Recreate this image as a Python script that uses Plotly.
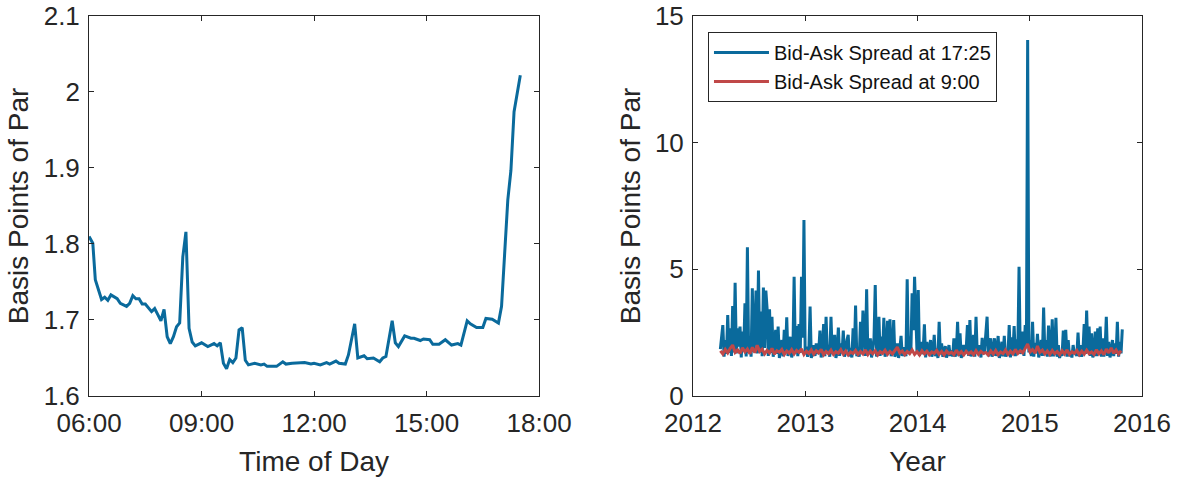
import pandas as pd
import plotly.graph_objects as go
from plotly.subplots import make_subplots

# ---- Intraday profile (left panel) ----
intraday_time = [
    "06:00", "06:06", "06:10", "06:15", "06:20", "06:25", "06:30", "06:35", "06:45", "06:50",
    "07:00", "07:05", "07:10", "07:15", "07:20", "07:25", "07:30", "07:40", "07:45", "07:50",
    "07:55", "08:00", "08:05", "08:10", "08:15", "08:20", "08:25", "08:30", "08:35", "08:40",
    "08:45", "08:50", "09:00", "09:10", "09:20", "09:25", "09:30", "09:35", "09:40", "09:45",
    "09:50", "09:55", "10:00", "10:05", "10:10", "10:15", "10:25", "10:35", "10:40", "10:45",
    "11:00", "11:10", "11:15", "11:25", "11:40", "11:45", "11:55", "12:00", "12:10", "12:20",
    "12:25", "12:35", "12:40", "12:50", "12:55", "13:05", "13:10", "13:20", "13:25", "13:35",
    "13:45", "13:50", "13:55", "14:05", "14:10", "14:15", "14:25", "14:35", "14:40", "14:50",
    "14:55", "15:05", "15:10", "15:20", "15:30", "15:40", "15:50", "15:55", "16:05", "16:10",
    "16:20", "16:30", "16:35", "16:45", "16:55", "17:00", "17:10", "17:15", "17:20", "17:30",
]
intraday_bp = [
    1.810, 1.801, 1.753, 1.739, 1.727, 1.730, 1.726, 1.733, 1.728, 1.722,
    1.718, 1.722, 1.732, 1.728, 1.728, 1.721, 1.721, 1.711, 1.715, 1.707,
    1.699, 1.714, 1.678, 1.669, 1.678, 1.691, 1.696, 1.783, 1.816, 1.689,
    1.671, 1.666, 1.670, 1.665, 1.669, 1.666, 1.670, 1.643, 1.636, 1.648,
    1.644, 1.650, 1.687, 1.690, 1.647, 1.641, 1.643, 1.641, 1.642, 1.639,
    1.639, 1.645, 1.642, 1.643, 1.644, 1.644, 1.642, 1.643, 1.641, 1.644,
    1.642, 1.646, 1.643, 1.642, 1.654, 1.695, 1.650, 1.653, 1.649, 1.650,
    1.645, 1.650, 1.652, 1.699, 1.670, 1.665, 1.679, 1.676, 1.676, 1.673,
    1.675, 1.674, 1.668, 1.668, 1.674, 1.667, 1.669, 1.667, 1.699, 1.695,
    1.690, 1.690, 1.702, 1.701, 1.696, 1.718, 1.858, 1.897, 1.974, 2.022,
]

# ---- Daily spreads (right panel), sampled every 4 / 8 days ----
start_date = "2012-03-30"

spread_1725 = [
    1.85, 2.41, 2.80, 1.55, 2.21, 1.66, 3.20, 1.70, 2.67, 1.58,
    3.55, 1.72, 4.47, 1.68, 2.67, 1.95, 2.74, 1.52, 2.54, 1.80,
    3.66, 1.56, 5.87, 1.70, 2.34, 1.55, 4.25, 1.75, 2.41, 4.16,
    1.68, 4.95, 1.72, 3.33, 1.57, 4.28, 1.90, 4.16, 3.46, 1.58,
    3.42, 1.70, 3.13, 1.55, 2.05, 2.61, 1.66, 2.74, 1.50, 1.88,
    2.21, 1.56, 2.61, 1.72, 3.11, 1.58, 1.92, 2.34, 1.52, 1.76,
    4.71, 1.68, 2.76, 1.57, 2.84, 1.70, 4.71, 2.30, 6.95, 1.66,
    1.95, 1.55, 1.78, 3.53, 1.50, 1.72, 2.01, 1.58, 2.08, 1.67,
    1.75, 2.58, 1.52, 1.85, 2.84, 1.57, 3.13, 1.70, 2.02, 1.55,
    3.13, 1.66, 1.80, 2.41, 1.50, 1.74, 2.70, 1.58, 2.08, 1.68,
    2.58, 1.55, 1.78, 2.21, 2.41, 1.56, 1.90, 1.52, 2.67, 1.70,
    3.57, 1.57, 1.82, 1.55, 2.93, 1.68, 3.37, 2.47, 1.58, 4.21,
    1.66, 1.74, 2.28, 1.52, 1.86, 2.28, 4.38, 1.56, 1.72, 3.13,
    1.58, 2.34, 1.67, 3.09, 1.55, 1.80, 2.97, 1.66, 3.03, 1.57,
    1.76, 3.00, 1.55, 1.70, 2.08, 1.50, 1.84, 2.37, 1.58, 1.71,
    1.92, 1.57, 4.61, 1.68, 2.34, 1.72, 4.05, 2.60, 4.71, 3.20,
    1.70, 4.18, 1.58, 2.14, 1.66, 1.78, 2.83, 1.52, 2.14, 1.69,
    1.82, 2.21, 1.55, 1.75, 2.41, 1.57, 1.88, 1.50, 2.93, 1.67,
    2.08, 1.55, 1.74, 1.97, 1.52, 1.70, 2.01, 1.58, 1.80, 1.56,
    2.28, 1.55, 1.76, 2.93, 1.57, 2.47, 1.50, 1.72, 2.01, 1.66,
    1.84, 2.80, 1.58, 3.00, 1.56, 1.78, 2.41, 1.55, 3.13, 1.68,
    1.74, 2.01, 1.52, 2.30, 1.66, 1.82, 2.74, 3.13, 1.57, 1.70,
    2.28, 1.55, 1.76, 2.28, 1.58, 1.86, 2.37, 1.50, 1.72, 2.14,
    1.56, 2.37, 1.55, 1.80, 1.66, 2.80, 1.52, 2.32, 1.68, 2.76,
    1.57, 2.24, 1.70, 5.10, 1.66, 1.84, 2.54, 1.58, 2.80, 1.90,
    14.05, 1.72, 2.21, 1.57, 2.93, 1.55, 2.10, 1.68, 2.45, 1.52,
    1.76, 2.21, 1.58, 3.49, 1.66, 2.21, 1.55, 2.78, 2.01, 1.56,
    3.03, 1.57, 1.80, 3.09, 1.55, 2.01, 1.50, 1.74, 1.58, 2.58,
    1.66, 2.61, 1.55, 2.21, 1.57, 1.78, 1.52, 2.01, 1.68, 1.72,
    1.58, 2.50, 1.56, 2.01, 1.55, 1.80, 2.84, 1.66, 3.37, 1.70,
    2.74, 1.58, 2.47, 1.52, 1.76, 2.54, 1.57, 2.67, 1.66, 2.74,
    1.55, 2.28, 1.56, 1.82, 3.13, 1.58, 2.14, 1.52, 1.74, 2.21,
    1.57, 2.08, 1.66, 2.93, 1.55, 2.14, 1.68, 2.63,
]

spread_0900 = [
    1.78, 1.66, 1.84, 1.70, 1.88, 2.01, 1.72, 1.82, 1.68, 1.90,
    1.74, 1.86, 1.67, 1.92, 1.71, 2.00, 1.76, 1.85, 1.66, 1.80,
    1.70, 1.88, 1.65, 1.79, 1.73, 1.84, 1.64, 1.78, 1.69, 1.83,
    1.66, 1.80, 1.72, 1.86, 1.64, 1.77, 1.68, 1.82, 1.65, 1.79,
    1.70, 1.84, 1.63, 1.76, 1.67, 1.81, 1.64, 1.75, 1.69, 1.83,
    1.65, 1.78, 1.62, 1.74, 1.68, 1.80, 1.64, 1.76, 1.66, 1.82,
    1.63, 1.77, 1.67, 1.79, 1.62, 1.75, 1.68, 1.81, 1.64, 1.76,
    1.66, 1.80, 1.93, 1.70, 1.78, 1.63, 1.76, 1.67, 1.82, 1.64,
    1.75, 1.62, 1.79, 1.66, 1.77, 1.63, 1.74, 1.68, 1.80, 1.64,
    1.76, 1.62, 1.78, 1.67, 1.73, 1.63, 1.81, 1.65, 1.75, 1.62,
    1.77, 1.66, 1.74, 1.63, 1.79, 1.64, 1.76, 1.68, 1.72, 1.62,
    1.78, 1.65, 1.80, 1.63, 1.74, 1.67, 1.82, 1.64, 1.77, 1.66,
    1.84, 1.68, 1.79, 1.70, 1.86, 2.05, 1.74, 1.83, 1.69, 1.97,
    1.72, 1.81, 1.66, 1.78, 1.64, 1.80, 1.67, 1.76, 1.63, 1.79,
    1.66, 1.82, 1.64, 1.75, 1.68, 1.80, 1.63, 1.77, 1.65, 1.81,
    1.67, 1.74, 1.64, 1.83, 1.66, 1.78, 1.63, 1.85, 1.70, 1.90,
    1.68, 1.82, 1.66, 1.79,
]

BLUE = "#0a6a9c"
RED = "#c04848"
AXIS = "#262626"
FONT = "Liberation Sans, Arial, Helvetica, sans-serif"

intraday_x = ["2000-01-01 " + t for t in intraday_time]
dates_1725 = pd.date_range(start_date, periods=len(spread_1725), freq="4D")
dates_0900 = pd.date_range(start_date, periods=len(spread_0900), freq="8D")

fig = make_subplots(rows=1, cols=2)

fig.add_trace(go.Scatter(x=intraday_x, y=intraday_bp, mode="lines",
                         line=dict(color=BLUE, width=3), showlegend=False),
              row=1, col=1)
fig.add_trace(go.Scatter(x=dates_1725, y=spread_1725, mode="lines",
                         name="Bid-Ask Spread at 17:25",
                         line=dict(color=BLUE, width=3)),
              row=1, col=2)
fig.add_trace(go.Scatter(x=dates_0900, y=spread_0900, mode="lines",
                         name="Bid-Ask Spread at 9:00",
                         line=dict(color=RED, width=3)),
              row=1, col=2)

axis_common = dict(showline=True, linecolor=AXIS, linewidth=1, mirror="ticks",
                   ticks="inside", ticklen=5, tickcolor=AXIS, showgrid=False,
                   zeroline=False, automargin=False,
                   tickfont=dict(size=26, color=AXIS, family=FONT),
                   title_font=dict(size=28, color=AXIS, family=FONT))

fig.update_xaxes(axis_common, ticklabelstandoff=4)
fig.update_yaxes(axis_common, ticklabelstandoff=3)

fig.update_xaxes(row=1, col=1, domain=[0.0756, 0.4576], type="date",
                 range=["2000-01-01 06:00", "2000-01-01 18:00"],
                 dtick=3 * 3600 * 1000, tick0="2000-01-01 06:00",
                 tickformat="%H:%M", title_text="Time of Day", title_standoff=14)
fig.update_yaxes(row=1, col=1, domain=[0.1698, 0.9665], range=[1.6, 2.1],
                 dtick=0.1, tick0=1.6, title_text="Basis Points of Par",
                 title_standoff=6)

fig.update_xaxes(row=1, col=2, domain=[0.5883, 0.9694], type="date",
                 range=["2012-01-01", "2016-01-01"], dtick="M12",
                 tick0="2012-01-01", tickformat="%Y", title_text="Year",
                 title_standoff=14)
fig.update_yaxes(row=1, col=2, domain=[0.1698, 0.9665], range=[0, 15],
                 dtick=5, tick0=0, title_text="Basis Points of Par",
                 title_standoff=6)

fig.update_layout(
    width=1178, height=477,
    margin=dict(l=0, r=0, t=0, b=0),
    paper_bgcolor="white", plot_bgcolor="white",
    font=dict(family=FONT, color=AXIS),
    legend=dict(x=0.601, y=0.933, xanchor="left", yanchor="top",
                bgcolor="white", bordercolor=AXIS, borderwidth=1,
                itemwidth=55,
                font=dict(size=20, color="#111111", family=FONT),
                tracegroupgap=0),
)

fig.write_html("out.html")
